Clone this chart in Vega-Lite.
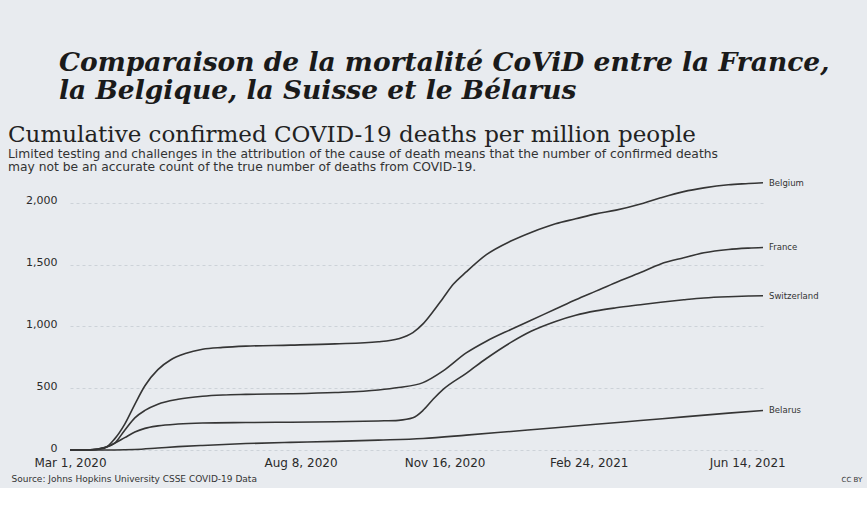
{
  "$schema": "https://vega.github.io/schema/vega-lite/v6.json",
  "background": "#e8ebef",
  "padding": {"left": 8, "top": 49, "right": 5, "bottom": 5},
  "title": {
    "text": ["Comparaison de la mortalité CoViD entre la France,", "la Belgique, la Suisse et le Bélarus"],
    "anchor": "start", "font": "DejaVu Serif", "fontSize": 26.5, "fontStyle": "italic", "fontWeight": "bold",
    "color": "#1a1a1a", "lineHeight": 28, "dx": 51, "offset": 20
  },
  "config": {"view": {"stroke": null}, "concat": {"spacing": 0}},
  "vconcat": [
    {
      "width": 693,
      "height": 272,
      "title": {
        "text": "Cumulative confirmed COVID-19 deaths per million people",
        "subtitle": ["Limited testing and challenges in the attribution of the cause of death means that the number of confirmed deaths", "may not be an accurate count of the true number of deaths from COVID-19."],
        "anchor": "start", "frame": "bounds", "dx": -3,
        "font": "DejaVu Serif", "fontSize": 23, "fontWeight": "normal", "color": "#222222",
        "subtitleFont": "DejaVu Sans", "subtitleFontSize": 12.3, "subtitleColor": "#333333",
        "subtitlePadding": 1, "subtitleLineHeight": 12.5, "offset": 5
      },
      "data": {"values": [
        {"country": "Belgium", "date": "2020-03-01", "value": 0},
        {"country": "Belgium", "date": "2020-03-15", "value": 0.3},
        {"country": "Belgium", "date": "2020-03-25", "value": 15},
        {"country": "Belgium", "date": "2020-04-01", "value": 90},
        {"country": "Belgium", "date": "2020-04-08", "value": 210},
        {"country": "Belgium", "date": "2020-04-15", "value": 370},
        {"country": "Belgium", "date": "2020-04-22", "value": 520},
        {"country": "Belgium", "date": "2020-05-01", "value": 650},
        {"country": "Belgium", "date": "2020-05-10", "value": 730},
        {"country": "Belgium", "date": "2020-05-20", "value": 780},
        {"country": "Belgium", "date": "2020-06-01", "value": 815},
        {"country": "Belgium", "date": "2020-06-15", "value": 830},
        {"country": "Belgium", "date": "2020-07-01", "value": 840},
        {"country": "Belgium", "date": "2020-08-01", "value": 848},
        {"country": "Belgium", "date": "2020-09-01", "value": 858},
        {"country": "Belgium", "date": "2020-10-01", "value": 875},
        {"country": "Belgium", "date": "2020-10-15", "value": 900},
        {"country": "Belgium", "date": "2020-10-25", "value": 950},
        {"country": "Belgium", "date": "2020-11-01", "value": 1020},
        {"country": "Belgium", "date": "2020-11-08", "value": 1120},
        {"country": "Belgium", "date": "2020-11-15", "value": 1230},
        {"country": "Belgium", "date": "2020-11-22", "value": 1340},
        {"country": "Belgium", "date": "2020-12-01", "value": 1440},
        {"country": "Belgium", "date": "2020-12-15", "value": 1580},
        {"country": "Belgium", "date": "2021-01-01", "value": 1690},
        {"country": "Belgium", "date": "2021-01-15", "value": 1760},
        {"country": "Belgium", "date": "2021-02-01", "value": 1830},
        {"country": "Belgium", "date": "2021-02-15", "value": 1870},
        {"country": "Belgium", "date": "2021-03-01", "value": 1910},
        {"country": "Belgium", "date": "2021-03-15", "value": 1940},
        {"country": "Belgium", "date": "2021-04-01", "value": 1990},
        {"country": "Belgium", "date": "2021-04-15", "value": 2040},
        {"country": "Belgium", "date": "2021-05-01", "value": 2090},
        {"country": "Belgium", "date": "2021-05-15", "value": 2120},
        {"country": "Belgium", "date": "2021-06-01", "value": 2145},
        {"country": "Belgium", "date": "2021-06-15", "value": 2155},
        {"country": "Belgium", "date": "2021-06-25", "value": 2162},
        {"country": "France", "date": "2020-03-01", "value": 0},
        {"country": "France", "date": "2020-03-15", "value": 1.5},
        {"country": "France", "date": "2020-03-25", "value": 20},
        {"country": "France", "date": "2020-04-01", "value": 55},
        {"country": "France", "date": "2020-04-08", "value": 160},
        {"country": "France", "date": "2020-04-15", "value": 260},
        {"country": "France", "date": "2020-04-22", "value": 320},
        {"country": "France", "date": "2020-05-01", "value": 370},
        {"country": "France", "date": "2020-05-15", "value": 410},
        {"country": "France", "date": "2020-06-01", "value": 435},
        {"country": "France", "date": "2020-06-15", "value": 445},
        {"country": "France", "date": "2020-07-01", "value": 450},
        {"country": "France", "date": "2020-08-01", "value": 455},
        {"country": "France", "date": "2020-09-01", "value": 465},
        {"country": "France", "date": "2020-10-01", "value": 485},
        {"country": "France", "date": "2020-10-15", "value": 505},
        {"country": "France", "date": "2020-11-01", "value": 545},
        {"country": "France", "date": "2020-11-15", "value": 640},
        {"country": "France", "date": "2020-12-01", "value": 785},
        {"country": "France", "date": "2020-12-15", "value": 880},
        {"country": "France", "date": "2021-01-01", "value": 975},
        {"country": "France", "date": "2021-01-15", "value": 1050},
        {"country": "France", "date": "2021-02-01", "value": 1140},
        {"country": "France", "date": "2021-02-15", "value": 1215},
        {"country": "France", "date": "2021-03-01", "value": 1285},
        {"country": "France", "date": "2021-03-15", "value": 1355},
        {"country": "France", "date": "2021-04-01", "value": 1435},
        {"country": "France", "date": "2021-04-15", "value": 1505},
        {"country": "France", "date": "2021-05-01", "value": 1555},
        {"country": "France", "date": "2021-05-15", "value": 1595},
        {"country": "France", "date": "2021-06-01", "value": 1622},
        {"country": "France", "date": "2021-06-15", "value": 1633},
        {"country": "France", "date": "2021-06-25", "value": 1638},
        {"country": "Switzerland", "date": "2020-03-01", "value": 0},
        {"country": "Switzerland", "date": "2020-03-15", "value": 1},
        {"country": "Switzerland", "date": "2020-03-25", "value": 20},
        {"country": "Switzerland", "date": "2020-04-01", "value": 55},
        {"country": "Switzerland", "date": "2020-04-08", "value": 100},
        {"country": "Switzerland", "date": "2020-04-15", "value": 145},
        {"country": "Switzerland", "date": "2020-04-22", "value": 175},
        {"country": "Switzerland", "date": "2020-05-01", "value": 195},
        {"country": "Switzerland", "date": "2020-05-15", "value": 210},
        {"country": "Switzerland", "date": "2020-06-01", "value": 218},
        {"country": "Switzerland", "date": "2020-07-01", "value": 222},
        {"country": "Switzerland", "date": "2020-08-01", "value": 225},
        {"country": "Switzerland", "date": "2020-09-01", "value": 228},
        {"country": "Switzerland", "date": "2020-10-01", "value": 235},
        {"country": "Switzerland", "date": "2020-10-15", "value": 240},
        {"country": "Switzerland", "date": "2020-10-25", "value": 260},
        {"country": "Switzerland", "date": "2020-11-01", "value": 320},
        {"country": "Switzerland", "date": "2020-11-08", "value": 410},
        {"country": "Switzerland", "date": "2020-11-15", "value": 490},
        {"country": "Switzerland", "date": "2020-12-01", "value": 620},
        {"country": "Switzerland", "date": "2020-12-15", "value": 740},
        {"country": "Switzerland", "date": "2021-01-01", "value": 870},
        {"country": "Switzerland", "date": "2021-01-15", "value": 960},
        {"country": "Switzerland", "date": "2021-02-01", "value": 1040},
        {"country": "Switzerland", "date": "2021-02-15", "value": 1090},
        {"country": "Switzerland", "date": "2021-03-01", "value": 1125},
        {"country": "Switzerland", "date": "2021-03-15", "value": 1150},
        {"country": "Switzerland", "date": "2021-04-01", "value": 1175},
        {"country": "Switzerland", "date": "2021-04-15", "value": 1195},
        {"country": "Switzerland", "date": "2021-05-01", "value": 1215},
        {"country": "Switzerland", "date": "2021-05-15", "value": 1230},
        {"country": "Switzerland", "date": "2021-06-01", "value": 1240},
        {"country": "Switzerland", "date": "2021-06-15", "value": 1245},
        {"country": "Switzerland", "date": "2021-06-25", "value": 1247},
        {"country": "Belarus", "date": "2020-03-01", "value": 0},
        {"country": "Belarus", "date": "2020-04-01", "value": 0.5},
        {"country": "Belarus", "date": "2020-04-15", "value": 4},
        {"country": "Belarus", "date": "2020-05-01", "value": 16},
        {"country": "Belarus", "date": "2020-05-15", "value": 27},
        {"country": "Belarus", "date": "2020-06-01", "value": 37},
        {"country": "Belarus", "date": "2020-07-01", "value": 52},
        {"country": "Belarus", "date": "2020-08-01", "value": 62},
        {"country": "Belarus", "date": "2020-09-01", "value": 70},
        {"country": "Belarus", "date": "2020-10-01", "value": 80},
        {"country": "Belarus", "date": "2020-11-01", "value": 93},
        {"country": "Belarus", "date": "2020-12-01", "value": 120},
        {"country": "Belarus", "date": "2021-01-01", "value": 150},
        {"country": "Belarus", "date": "2021-02-01", "value": 180},
        {"country": "Belarus", "date": "2021-03-01", "value": 208},
        {"country": "Belarus", "date": "2021-04-01", "value": 238},
        {"country": "Belarus", "date": "2021-05-01", "value": 268},
        {"country": "Belarus", "date": "2021-06-01", "value": 298},
        {"country": "Belarus", "date": "2021-06-25", "value": 320}
      ]},
      "resolve": {"axis": {"y": "independent"}},
      "layer": [
        {
          "mark": {"type": "line", "interpolate": "monotone", "color": "#353535", "strokeWidth": 1.6},
          "encoding": {
            "x": {
              "field": "date", "type": "temporal",
              "scale": {"type": "utc", "domain": [{"year": 2020, "month": 3, "date": 1, "utc": true}, {"year": 2021, "month": 6, "date": 25, "utc": true}]},
              "axis": {
                "values": [
                  {"year": 2020, "month": 3, "date": 1, "utc": true},
                  {"year": 2020, "month": 8, "date": 8, "utc": true},
                  {"year": 2020, "month": 11, "date": 16, "utc": true},
                  {"year": 2021, "month": 2, "date": 24, "utc": true},
                  {"year": 2021, "month": 6, "date": 14, "utc": true}
                ],
                "labelExpr": "utcFormat(datum.value, '%b %-d, %Y')",
                "labelFont": "DejaVu Sans", "labelFontSize": 12, "labelColor": "#2a2a2a",
                "labelPadding": 7, "labelOverlap": false, "labelFlush": false,
                "ticks": false, "domain": false, "grid": false,
                "title": "Source: Johns Hopkins University CSSE COVID-19 Data",
                "titleFont": "DejaVu Sans", "titleFontSize": 9, "titleFontWeight": "normal", "titleColor": "#333333",
                "titleAlign": "left", "titleAnchor": "start", "titleX": -59, "titlePadding": 6
              }
            },
            "y": {
              "field": "value", "type": "quantitative",
              "scale": {"domain": [0, 2200], "nice": false},
              "axis": {
                "values": [0, 500, 1000, 1500, 2000],
                "labelExpr": "format(datum.value, ',')",
                "labelFont": "DejaVu Sans", "labelFontSize": 11, "labelColor": "#2a2a2a",
                "labelPadding": 13, "labelOffset": -2, "ticks": false, "domain": false,
                "grid": true, "gridColor": "#cdd2d8", "gridDash": [3, 3], "gridWidth": 1,
                "title": null
              }
            },
            "detail": {"field": "country"}
          }
        },
        {
          "transform": [{"filter": {"field": "date", "equal": {"year": 2021, "month": 6, "date": 25, "utc": true}}}],
          "mark": {"type": "text", "align": "left", "dx": 6, "font": "DejaVu Sans", "fontSize": 8.5, "color": "#333333"},
          "encoding": {
            "x": {"field": "date", "type": "temporal"},
            "y": {
              "field": "value", "type": "quantitative",
              "axis": {
                "orient": "right", "labels": false, "ticks": false, "domain": false, "grid": false,
                "title": "CC BY", "titleAngle": 0, "titleAlign": "left", "titleBaseline": "middle",
                "titleX": 78, "titleY": 301,
                "titleFont": "DejaVu Sans", "titleFontSize": 7, "titleFontWeight": "normal", "titleColor": "#333333"
              }
            },
            "text": {"field": "country"}
          }
        }
      ]
    }
  ]
}
